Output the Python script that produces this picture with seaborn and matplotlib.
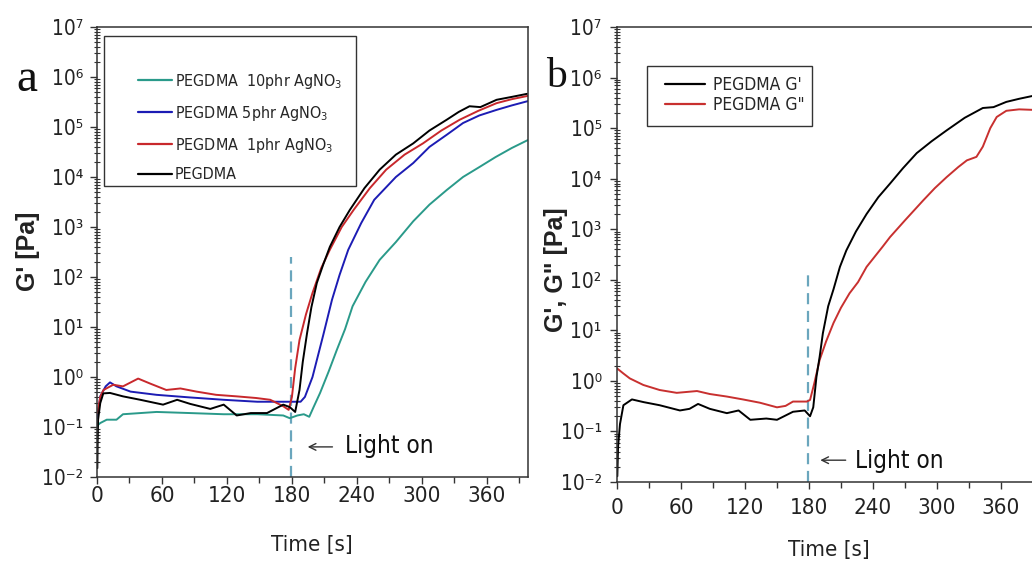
import math
import pandas as pd
import seaborn as sns
import matplotlib.pyplot as plt
from matplotlib import font_manager as fm
from matplotlib.lines import Line2D
from matplotlib.patches import Rectangle
from matplotlib.ticker import LogLocator, MultipleLocator, NullFormatter, FuncFormatter

# ---- panel a: G' for the AgNO3 loadings
t_10phr = [0.5, 1, 3, 9, 18, 24, 40, 55, 86, 117, 148, 172, 178, 185, 191, 196, 200, 206,
           214, 221.5, 229, 236, 248, 261, 276, 292, 307, 323, 338, 353.5, 368, 383, 398]
g_10phr = [0.10, 0.11, 0.12, 0.14, 0.14, 0.18, 0.19, 0.20, 0.19, 0.18, 0.18, 0.17, 0.15, 0.17,
           0.18, 0.16, 0.25, 0.48, 1.3, 3.5, 9, 26, 80, 220, 500, 1300, 2800, 5500, 10000,
           16000, 25000, 38000, 55000]

t_5phr = [0.5, 3, 8, 12, 18, 31, 55, 86, 117, 148, 172, 188, 192, 199, 209, 217, 224, 232,
          244, 256, 276, 292, 307, 323, 338, 353, 369, 383, 398]
g_5phr = [0.15, 0.41, 0.65, 0.78, 0.65, 0.51, 0.44, 0.39, 0.35, 0.32, 0.32, 0.32, 0.4, 1.0,
          7, 35, 110, 350, 1200, 3500, 10000, 19000, 40000, 70000, 120000, 170000, 220000,
          270000, 330000]

t_1phr = [0.5, 3, 6, 15, 24, 38, 49, 64, 77, 92, 110, 129, 147, 160, 172, 177, 180, 183, 187,
          193, 199, 207, 215, 226, 237, 252, 267, 284, 301, 318, 335, 352, 369, 383, 398]
g_1phr = [0.19, 0.4, 0.55, 0.7, 0.65, 0.93, 0.74, 0.55, 0.59, 0.51, 0.44, 0.41, 0.38, 0.35,
          0.26, 0.22, 0.4, 1.5, 5.5, 18, 48, 150, 350, 1000, 2200, 6000, 14000, 28000, 47000,
          85000, 140000, 210000, 300000, 360000, 420000]

t_neat = [0.3, 0.6, 1, 3, 5.8, 12, 24, 40, 61, 74, 86, 104.6, 117, 129, 142, 157, 172, 178,
          183, 187, 190, 194, 198, 203, 209, 215, 224, 233.5, 247, 261, 276, 292, 307, 323,
          334, 344, 354, 369, 383, 397]
g_neat = [0.015, 0.05, 0.14, 0.3, 0.47, 0.48, 0.41, 0.35, 0.28, 0.35, 0.29, 0.23, 0.28, 0.17,
          0.19, 0.19, 0.28, 0.25, 0.2, 0.55, 2, 7.6, 25, 76, 180, 400, 1000, 2200, 6000, 14000,
          28000, 47000, 85000, 140000, 200000, 260000, 250000, 350000, 400000, 460000]

# ---- panel b: G' and G'' of neat PEGDMA
t_gp = [0.3, 1, 2.8, 6, 14, 25, 40, 59, 68, 76, 87, 103, 114, 125, 140, 150, 165, 176, 181,
        184, 187, 190, 193, 198, 203, 209, 215, 224, 234, 245, 256, 268, 281, 295, 309, 326,
        343, 353, 365, 377, 389, 398]
g_gp = [0.013, 0.05, 0.14, 0.33, 0.43, 0.38, 0.33, 0.26, 0.28, 0.35, 0.28, 0.23, 0.26, 0.17,
        0.18, 0.17, 0.245, 0.26, 0.2, 0.3, 1.2, 3, 8.7, 30, 65, 180, 380, 900, 2000, 4300,
        8000, 16000, 32000, 55000, 90000, 160000, 250000, 260000, 330000, 380000, 430000, 460000]

t_gpp = [0, 6, 12, 24.7, 40, 56, 75, 87, 103, 118, 134, 150, 158, 165, 178, 181, 185, 190,
         196, 203, 210, 218, 226, 234, 249, 256, 270, 287, 298, 309, 320, 328, 337, 343, 350,
         356, 365, 377, 389, 398]
g_gpp = [1.77, 1.4, 1.12, 0.83, 0.66, 0.58, 0.63, 0.55, 0.49, 0.43, 0.37, 0.30, 0.32, 0.39,
         0.39, 0.42, 0.9, 2.6, 6, 14, 28, 54, 90, 180, 450, 700, 1500, 3700, 6500, 10700,
         17000, 23000, 27000, 43000, 100000, 166000, 220000, 235000, 230000, 235000]

names_a = ['PEGDMA  10phr AgNO$_3$', 'PEGDMA 5phr AgNO$_3$', 'PEGDMA  1phr AgNO$_3$', 'PEGDMA']
colors_a = ['#2a9a8a', '#1c1cb4', '#c8282c', '#000000']
names_b = ["PEGDMA G'", 'PEGDMA G"']
colors_b = ['#000000', '#c8302f']
light_on = 179

sns.set_theme(style='ticks')

# the original uses a narrow sans; take a narrow/condensed face if one is installed
narrow = [f for f in fm.fontManager.ttflist
          if ('Narrow' in f.name or 'Condensed' in f.name or 'condensed' in str(f.stretch))
          and f.style == 'normal' and f.weight in (400, 'normal', 'regular')]
if narrow:
    fam, stretch = narrow[0].name, narrow[0].stretch
else:
    fam, stretch = 'Liberation Sans', 'normal'
plt.rcParams['font.family'] = [fam, 'DejaVu Sans']
plt.rcParams['font.stretch'] = stretch
plt.rcParams['mathtext.fontset'] = 'custom'
plt.rcParams['mathtext.rm'] = fam
plt.rcParams['mathtext.it'] = fam

SUP = str.maketrans('-0123456789', '⁻⁰¹²³⁴⁵⁶⁷⁸⁹')
pow10 = FuncFormatter(lambda v, p: '10' + str(int(round(math.log10(v)))).translate(SUP))

df_a = pd.concat([pd.DataFrame({'t': t, 'G': g, 'series': n})
                  for t, g, n in zip([t_10phr, t_5phr, t_1phr, t_neat],
                                     [g_10phr, g_5phr, g_1phr, g_neat], names_a)])
df_b = pd.concat([pd.DataFrame({'t': t, 'G': g, 'series': n})
                  for t, g, n in zip([t_gpp, t_gp], [g_gpp, g_gp], names_b[::-1])])

W, H = 1032, 563
fig = plt.figure(figsize=(W / 100, H / 100), dpi=100)
ax1 = fig.add_axes([97 / W, 1 - 477 / H, 431 / W, 450 / H])
ax2 = fig.add_axes([617 / W, 1 - 482 / H, 424.5 / W, 455 / H])


def style_axis(ax, xpad, ypad):
    ax.set_yscale('log')
    ax.set_ylim(1e-2, 1e7)
    ax.set_xlim(0, 398)
    ax.xaxis.set_major_locator(MultipleLocator(60))
    ax.xaxis.set_minor_locator(MultipleLocator(30))
    ax.yaxis.set_major_locator(LogLocator(base=10, numticks=20))
    ax.yaxis.set_minor_locator(LogLocator(base=10, subs=range(2, 10), numticks=20))
    ax.yaxis.set_major_formatter(pow10)
    ax.yaxis.set_minor_formatter(NullFormatter())
    ax.tick_params(axis='x', which='major', direction='out', length=5, width=1,
                   labelsize=16, pad=xpad, colors='#333333', labelcolor='#222222')
    ax.tick_params(axis='x', which='minor', direction='out', length=4, width=1, colors='#333333')
    ax.tick_params(axis='y', which='major', direction='out', length=5, width=1,
                   labelsize=15, pad=ypad, colors='#333333', labelcolor='#222222')
    ax.tick_params(axis='y', which='minor', direction='inout', length=4, width=0.8,
                   colors='#333333')
    for s in ax.spines.values():
        s.set_color('#333333')
        s.set_linewidth(1.1)
    ax.set_xlabel('')
    ax.set_ylabel('')


sns.lineplot(data=df_a, x='t', y='G', hue='series', hue_order=names_a,
             palette=dict(zip(names_a, colors_a)), estimator=None, sort=False,
             lw=1.4, legend=False, ax=ax1)
sns.lineplot(data=df_b, x='t', y='G', hue='series', hue_order=names_b[::-1],
             palette=dict(zip(names_b, colors_b)), estimator=None, sort=False,
             lw=1.4, legend=False, ax=ax2)
style_axis(ax1, 1.5, 5)
style_axis(ax2, 6.5, 6)

# light-on marker
ax1.vlines(light_on, 1e-2, 250, colors='#6aa6bd', linestyles=(0, (5, 3)), lw=1.6, zorder=1)
ax2.vlines(light_on, 1e-2, 135, colors='#6aa6bd', linestyles=(0, (5, 3)), lw=1.6, zorder=1)
for ax, ax_x, ay, tx, ty in [(ax1, (192, 220), 0.04, 229, 0.030),
                             (ax2, (188, 217), 0.027, 223, 0.019)]:
    ax.annotate('', xy=(ax_x[0], ay), xytext=(ax_x[1], ay),
                arrowprops=dict(arrowstyle='->', color='#333333', lw=1.0))
    ax.text(tx, ty, 'Light on', fontsize=17.5, va='baseline', ha='left', color='#111111')

# legends (frameless) plus hand-drawn boxes
h_a = [Line2D([], [], color=c, lw=1.6) for c in colors_a]
ax1.legend(h_a, names_a, loc='upper left', bbox_to_anchor=(130 / W, 1 - 64 / H),
           bbox_transform=fig.transFigure, frameon=False, fontsize=11.5,
           handlelength=2.1, handletextpad=0.2, labelspacing=0.8, borderpad=0)
fig.add_artist(Rectangle((104 / W, 1 - 186 / H), 252 / W, 150 / H, transform=fig.transFigure,
                         fill=False, ec='#333333', lw=1.0))
h_b = [Line2D([], [], color=c, lw=1.6) for c in colors_b]
ax2.legend(h_b, names_b, loc='upper left', bbox_to_anchor=(656 / W, 1 - 67 / H),
           bbox_transform=fig.transFigure, frameon=False, fontsize=12.5,
           handlelength=2.3, handletextpad=0.5, labelspacing=0.15, borderpad=0)
fig.add_artist(Rectangle((647 / W, 1 - 126 / H), 165 / W, 60 / H, transform=fig.transFigure,
                         fill=False, ec='#333333', lw=1.0))

# axis labels and panel letters
bold = dict(fontsize=18, fontweight='bold', family=['Liberation Sans', 'DejaVu Sans'],
            stretch='normal', color='#222222', rotation=90, ha='center', va='center')
fig.text(28 / W, 1 - 251 / H, "G' [Pa]", **bold)
fig.text(556 / W, 1 - 270 / H, 'G\', G" [Pa]', **bold)
fig.text(312 / W, 1 - 545 / H, 'Time [s]', ha='center', va='center', fontsize=16, color='#222222')
fig.text(829 / W, 1 - 550 / H, 'Time [s]', ha='center', va='center', fontsize=16, color='#222222')
fig.text(27 / W, 1 - 80 / H, 'a', ha='center', va='center', fontsize=34, stretch='normal',
         family=['Liberation Serif', 'DejaVu Serif'], color='#111111')
fig.text(556 / W, 1 - 77 / H, 'b', ha='center', va='center', fontsize=30, stretch='normal',
         family=['Liberation Serif', 'DejaVu Serif'], color='#111111')

fig.savefig('out.png', dpi=100)
